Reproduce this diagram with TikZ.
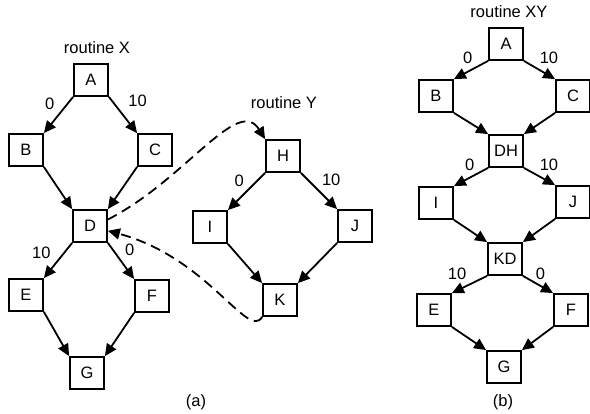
\documentclass[tikz,border=0pt]{standalone}
\usepackage{fontspec}
\setmainfont{Liberation Sans}
\usetikzlibrary{arrows.meta, positioning}

\begin{document}
\begin{tikzpicture}[x=1pt, y=-1pt, >={Triangle[length=12pt, width=11pt]}, font=\fontsize{16.5}{18}\selectfont]
	\tikzstyle{block} = [draw, line width=1.8pt, rectangle, minimum width=34pt, minimum height=32pt, inner sep=0pt]
	\tikzstyle{lbl} = [inner sep=1pt]
	\tikzstyle{link} = [->, line width=1.8pt, dash pattern=on 10pt off 6pt]

	\useasboundingbox (0,0) rectangle (590,414);

	% routine X
	\node (xtitle) at (97,48) {routine X};
	\path[->, line width=1.8pt]
		node[block] (xa) at (91,80) {A}
		node[block] (xb) at (26,150) {B}
		node[block] (xc) at (155,150) {C}
		node[block] (xd) at (90,226) {D}
		node[block] (xe) at (26,295) {E}
		node[block] (xf) at (152,296) {F}
		node[block] (xg) at (87,373) {G}

		(xa.south west) edge node[lbl, pos=.2, left=11pt] {0} (xb.north east)
		(xa.south east) edge node[lbl, pos=.2, right=12pt, yshift=3pt] {10} (xc.north west)
		(xb.south east) edge (xd.north west)
		(xc.south west) edge (xd.north east)
		(xd.south west) edge node[lbl, pos=.2, left=14pt, yshift=-3pt] {10} (xe.north east)
		(xd.south east) edge node[lbl, pos=.2, right=10pt] {0} (xf.north west)
		(xe.south east) edge (xg.north west)
		(xf.south west) edge (xg.north east)
	;
	\node (xcap) at (196,402) {(a)};

	% routine Y
	\node (ytitle) at (284,103) {routine Y};
	\path[->, line width=1.8pt]
		node[block] (yh) at (283,156) {H}
		node[block] (yi) at (210,227) {I}
		node[block] (yj) at (355,226) {J}
		node[block] (yk) at (280,300) {K}

		(yh.south west) edge node[lbl, pos=.2, left=12pt] {0} (yi.north east)
		(yh.south east) edge node[lbl, pos=.2, right=12pt] {10} (yj.north west)
		(yi.south east) edge (yk.north west)
		(yj.south west) edge (yk.north east)
	;

	% call and return
	\draw[link] (xd.20) to[out=27, in=122, out looseness=1.25, in looseness=.75] (yh.north west);
	\draw[link] (yk.south west) to[out=-120, in=-15, out looseness=.4, in looseness=1.5] (xd.-15);

	% routine XY
	\node (xytitle) at (509,12) {routine XY};
	\path[->, line width=1.8pt]
		node[block] (za) at (506,44) {A}
		node[block] (zb) at (436,96) {B}
		node[block] (zc) at (573,96) {C}
		node[block] (zdh) at (506,151) {DH}
		node[block] (zi) at (436,203) {I}
		node[block] (zj) at (573,202) {J}
		node[block] (zkd) at (505,259) {KD}
		node[block] (ze) at (434,310) {E}
		node[block] (zf) at (571,310) {F}
		node[block] (zg) at (504,367) {G}

		(za.south west) edge node[lbl, pos=0, left=14pt, yshift=3pt] {0} (zb.north east)
		(za.south east) edge node[lbl, pos=0, right=14pt, yshift=3pt] {10} (zc.north west)
		(zb.south east) edge (zdh.north west)
		(zc.south west) edge (zdh.north east)
		(zdh.south west) edge node[lbl, pos=0, left=12pt, yshift=3pt] {0} (zi.north east)
		(zdh.south east) edge node[lbl, pos=0, right=14pt, yshift=3pt] {10} (zj.north west)
		(zi.south east) edge (zkd.north west)
		(zj.south west) edge (zkd.north east)
		(zkd.south west) edge node[lbl, pos=0, left=19pt, yshift=2pt] {10} (ze.north east)
		(zkd.south east) edge node[lbl, pos=0, right=11pt, yshift=2pt] {0} (zf.north west)
		(ze.south east) edge (zg.north west)
		(zf.south west) edge (zg.north east)
	;
	\node (xycap) at (503,402) {(b)};
\end{tikzpicture}
\end{document}
